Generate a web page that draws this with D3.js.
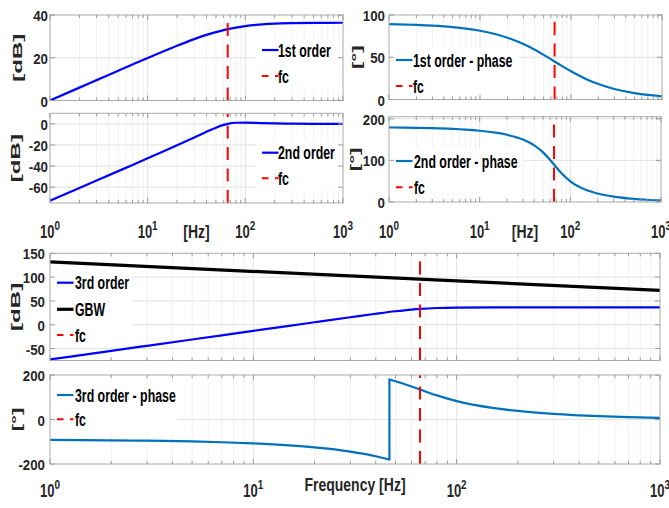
<!DOCTYPE html>
<html><head><meta charset="utf-8">
<script src="https://cdn.jsdelivr.net/npm/d3@7"></script>
<style>html,body{margin:0;padding:0;background:#fff;} svg{display:block;}</style>
</head><body><svg id="chart" width="669" height="508"></svg>
<script>
// ---------------- data ----------------
const freqHz = [1, 2, 3, 5, 7, 10, 15, 20, 30, 40, 50, 60, 66, 80, 100, 150, 200, 300, 500, 700, 1000];
const firstOrderDb = [0.0, 6.02, 9.53, 13.95, 16.85, 19.90, 23.30, 25.64, 28.72, 30.68, 32.01, 32.95, 33.38, 34.13, 34.82, 35.62, 35.94, 36.18, 36.32, 36.35, 36.37];
const firstOrderPhase = [89.13, 88.26, 87.40, 85.67, 83.95, 81.38, 77.20, 73.14, 65.56, 58.78, 52.85, 47.73, 45.00, 39.52, 33.42, 23.75, 18.26, 12.41, 7.52, 5.39, 3.78];
const secondOrderDb = [-72.78, -60.74, -53.69, -44.80, -38.93, -32.68, -25.52, -20.36, -12.92, -7.55, -3.60, -0.98, 0.00, 1.06, 1.23, 0.74, 0.44, 0.20, 0.07, 0.04, 0.02];
const secondOrderPhase = [179.13, 178.26, 177.39, 175.64, 173.88, 171.18, 166.52, 161.55, 150.19, 136.23, 119.36, 100.81, 90.00, 68.84, 49.46, 28.62, 20.32, 13.02, 7.65, 5.43, 3.79];
const thirdOrderDb = [-72.78, -54.72, -44.16, -30.85, -22.08, -12.78, -2.22, 5.28, 15.80, 23.13, 28.41, 31.97, 33.38, 35.19, 36.05, 36.36, 36.38, 36.38, 36.39, 36.39, 36.39];
const thirdPhaseFreqLow = [1, 2, 3, 5, 7, 10, 15, 20, 30, 40, 45, 46.7];
const thirdPhaseLow = [-91.74, -93.48, -95.21, -98.69, -102.17, -107.44, -116.28, -125.31, -144.25, -164.99, -176.17, -180];
const thirdPhaseFreqHigh = [46.7, 50, 60, 66, 80, 100, 150, 200, 300, 500, 700, 1000];
const thirdPhaseHigh = [180, 172.21, 148.54, 135.00, 108.36, 82.88, 52.37, 38.58, 25.43, 15.17, 10.82, 7.57];
const gbwFreq = [1, 1000];
const gbwDb = [132, 72];
const fcHz = 66;

const xTickExponents = [0, 1, 2, 3];
const yTicks1 = [0, 20, 40];
const yTicks2 = [0, 50, 100];
const yTicks3 = [-60, -40, -20, 0];
const yTicks4 = [0, 100, 200];
const yTicks5 = [-50, 0, 50, 100, 150];
const yTicks6 = [-200, 0, 200];

const legend1 = ['1st order', 'fc'];
const legend2 = ['1st order - phase', 'fc'];
const legend3 = ['2nd order', 'fc'];
const legend4 = ['2nd order - phase', 'fc'];
const legend5 = ['3rd order', 'GBW', 'fc'];
const legend6 = ['3rd order - phase', 'fc'];
const labelDb = '[dB]', labelDeg = '[°]', labelHz = '[Hz]', labelFreq = 'Frequency [Hz]';

// ---------------- styling ----------------
const BLUE = '#0000ff', PHASE = '#0072BD', RED = '#ff0000', BLACK = '#000000';
const FONT = '"Liberation Sans", Arial, Helvetica, sans-serif';
const INK = '#262626';
const svg = d3.select('#chart');
svg.append('rect').attr('width', 669).attr('height', 508).attr('fill', '#fff');

const zip = (a, b) => a.map((v, i) => [v, b[i]]);

function txt(g, x, y, s, o = {}) {
  return g.append('text')
    .attr('transform', `translate(${x},${y}) rotate(${o.rot || 0}) scale(${o.sx || 1},${o.sy || 1})`)
    .attr('text-anchor', o.anchor || 'start')
    .attr('dy', o.dy || 0)
    .attr('font-family', FONT).attr('font-weight', 'bold')
    .attr('font-size', o.size || 13).attr('fill', o.fill || INK)
    .text(s);
}

const minorF = [];
[1, 10, 100].forEach(d => { for (let k = 2; k <= 9; k++) minorF.push(k * d); });

const panels = [
  { x0: 50, x1: 343, y0: 15, y1: 100.5, yDomain: [0, 40], yTicks: yTicks1, tickEnd: 48,
    series: [{ segs: [zip(freqHz, firstOrderDb)], color: BLUE, w: 2.2 }],
    leg: { names: legend1, styles: [{ c: BLUE, w: 2.2 }, { c: RED, w: 2, dash: '6.5,6.5' }], box: [256, 40, 86, 50], sx: 262, tx: 278, rows: [50, 76] },
    ylab: { s: labelDb, x: 18, size: 13 } },
  { x0: 389, x1: 662, y0: 15, y1: 99.5, yDomain: [0, 100], yTicks: yTicks2, tickEnd: 385,
    series: [{ segs: [zip(freqHz, firstOrderPhase)], color: PHASE, w: 2.2 }],
    leg: { names: legend2, styles: [{ c: PHASE, w: 2.2 }, { c: RED, w: 2, dash: '6.5,6.5' }], box: [392, 47, 127, 49], sx: 396, tx: 413, rows: [60, 86] },
    ylab: { s: labelDeg, x: 357, size: 12 } },
  { x0: 50, x1: 343, y0: 113.3, y1: 203, yDomain: [-75, 10], yTicks: yTicks3, tickEnd: 48, xlab: labelHz, xBase: 238,
    series: [{ segs: [zip(freqHz, secondOrderDb)], color: BLUE, w: 2.2 }],
    leg: { names: legend3, styles: [{ c: BLUE, w: 2.2 }, { c: RED, w: 2, dash: '6.5,6.5' }], box: [256, 141, 86, 49], sx: 262, tx: 278, rows: [152.7, 178.3] },
    ylab: { s: labelDb, x: 16, size: 13 } },
  { x0: 389, x1: 661, y0: 116.7, y1: 202, yDomain: [0, 205], yTicks: yTicks4, tickEnd: 385, xlab: labelHz, xBase: 238,
    series: [{ segs: [zip(freqHz, secondOrderPhase)], color: PHASE, w: 2.2 }],
    leg: { names: legend4, styles: [{ c: PHASE, w: 2.2 }, { c: RED, w: 2, dash: '6.5,6.5' }], box: [392, 148, 130, 50], sx: 396, tx: 414, rows: [161, 187.3] },
    ylab: { s: labelDeg, x: 355, size: 12 } },
  { x0: 50, x1: 660, y0: 253.3, y1: 360.5, yDomain: [-75, 150], yTicks: yTicks5, tickEnd: 45,
    series: [{ segs: [zip(gbwFreq, gbwDb)], color: BLACK, w: 3.2 }, { segs: [zip(freqHz, thirdOrderDb)], color: BLUE, w: 2.2 }],
    leg: { names: legend5, styles: [{ c: BLUE, w: 2.2 }, { c: BLACK, w: 3.2 }, { c: RED, w: 2, dash: '6.5,6.5' }], box: [51, 270, 81, 75], sx: 57, tx: 75, rows: [282.7, 309.3, 335] },
    ylab: { s: labelDb, x: 16, size: 13 } },
  { x0: 50, x1: 660, y0: 375, y1: 464, yDomain: [-200, 200], yTicks: yTicks6, tickEnd: 45, xlab: labelFreq, xBase: 497, xlabBase: 491,
    series: [{ segs: [zip(thirdPhaseFreqLow, thirdPhaseLow), zip(thirdPhaseFreqHigh, thirdPhaseHigh)], color: PHASE, w: 2.2 }],
    leg: { names: legend6, styles: [{ c: PHASE, w: 2.2 }, { c: RED, w: 2, dash: '6.5,6.5' }], box: [51, 383, 127, 48], sx: 57, tx: 75, rows: [395, 419.3] },
    ylab: { s: labelDeg, x: 17, size: 12 } }
];

panels.forEach((p, i) => {
  const g = svg.append('g');
  const x = d3.scaleLog().domain([1, 1000]).range([p.x0, p.x1]);
  const y = d3.scaleLinear().domain(p.yDomain).range([p.y1, p.y0]);

  // grid
  minorF.forEach(f => g.append('line').attr('x1', x(f)).attr('x2', x(f)).attr('y1', p.y0).attr('y2', p.y1)
    .attr('stroke', '#f1f1f1').attr('stroke-width', 1));
  [10, 100].forEach(f => g.append('line').attr('x1', x(f)).attr('x2', x(f)).attr('y1', p.y0).attr('y2', p.y1)
    .attr('stroke', '#e2e2e2').attr('stroke-width', 1));
  p.yTicks.forEach(v => {
    if (v === p.yDomain[0] || v === p.yDomain[1]) return;
    g.append('line').attr('x1', p.x0).attr('x2', p.x1).attr('y1', y(v)).attr('y2', y(v))
      .attr('stroke', '#e2e2e2').attr('stroke-width', 1);
  });

  // data
  const cid = 'clip' + i;
  svg.append('clipPath').attr('id', cid).append('rect')
    .attr('x', p.x0).attr('y', p.y0).attr('width', p.x1 - p.x0).attr('height', p.y1 - p.y0);
  const plot = g.append('g').attr('clip-path', `url(#${cid})`);
  const line = d3.line().x(d => x(d[0])).y(d => y(d[1])).curve(d3.curveMonotoneX);
  p.series.forEach(s => {
    const d = s.segs.map((seg, k) => k ? line(seg).replace(/^M/, 'L') : line(seg)).join('');
    plot.append('path').attr('d', d).attr('fill', 'none').attr('stroke', s.color)
      .attr('stroke-width', s.w).attr('stroke-linejoin', 'round');
  });
  plot.append('line').attr('x1', x(fcHz)).attr('x2', x(fcHz)).attr('y1', p.y1).attr('y2', p.y0)
    .attr('stroke', RED).attr('stroke-width', 2).attr('stroke-dasharray', '13,8.5');

  // legend
  const L = p.leg;
  g.append('rect').attr('x', L.box[0]).attr('y', L.box[1]).attr('width', L.box[2]).attr('height', L.box[3]).attr('fill', '#fff');
  L.names.forEach((nm, k) => {
    const st = L.styles[k], ry = L.rows[k];
    g.append('line').attr('x1', L.sx).attr('x2', L.sx + 16.5).attr('y1', ry).attr('y2', ry)
      .attr('stroke', st.c).attr('stroke-width', st.w).attr('stroke-dasharray', st.dash || null);
    txt(g, L.tx, ry + 6.5, nm, { size: 13, sx: 0.95, sy: 1.35, fill: '#000' });
  });

  // box
  g.append('rect').attr('x', p.x0).attr('y', p.y0).attr('width', p.x1 - p.x0).attr('height', p.y1 - p.y0)
    .attr('fill', 'none').attr('stroke', '#ababab').attr('stroke-width', 1);

  // ticks (inward, MATLAB style)
  const tk = '#999999';
  xTickExponents.forEach(e => {
    const xv = x(Math.pow(10, e));
    g.append('line').attr('x1', xv).attr('x2', xv).attr('y1', p.y1).attr('y2', p.y1 - 5).attr('stroke', tk);
    g.append('line').attr('x1', xv).attr('x2', xv).attr('y1', p.y0).attr('y2', p.y0 + 5).attr('stroke', tk);
  });
  minorF.forEach(f => {
    const xv = x(f);
    g.append('line').attr('x1', xv).attr('x2', xv).attr('y1', p.y1).attr('y2', p.y1 - 3).attr('stroke', tk);
    g.append('line').attr('x1', xv).attr('x2', xv).attr('y1', p.y0).attr('y2', p.y0 + 3).attr('stroke', tk);
  });
  p.yTicks.forEach(v => {
    g.append('line').attr('x1', p.x0).attr('x2', p.x0 + 5).attr('y1', y(v)).attr('y2', y(v)).attr('stroke', tk);
    g.append('line').attr('x1', p.x1).attr('x2', p.x1 - 5).attr('y1', y(v)).attr('y2', y(v)).attr('stroke', tk);
    txt(g, p.tickEnd, y(v) + 6, String(v), { size: 14, sx: 0.95, sy: 1.1, anchor: 'end' });
  });

  // x tick labels
  if (p.xlab) {
    xTickExponents.forEach(e => {
      const t = txt(g, x(Math.pow(10, e)), p.xBase, '', { size: 13, sy: 1.35, anchor: 'middle' });
      t.append('tspan').text('10');
      t.append('tspan').attr('font-size', 10).attr('dy', -5.6).text(String(e));
    });
    txt(g, (p.x0 + p.x1) / 2, p.xlabBase || p.xBase, p.xlab, { size: 14, sy: 1.35, anchor: 'middle' });
  }

  // y label (rotated)
  txt(g, p.ylab.x, (p.y0 + p.y1) / 2, p.ylab.s, { size: p.ylab.size, rot: -90, sx: 1.85, anchor: 'middle', dy: '0.3em' });
});
</script></body></html>
